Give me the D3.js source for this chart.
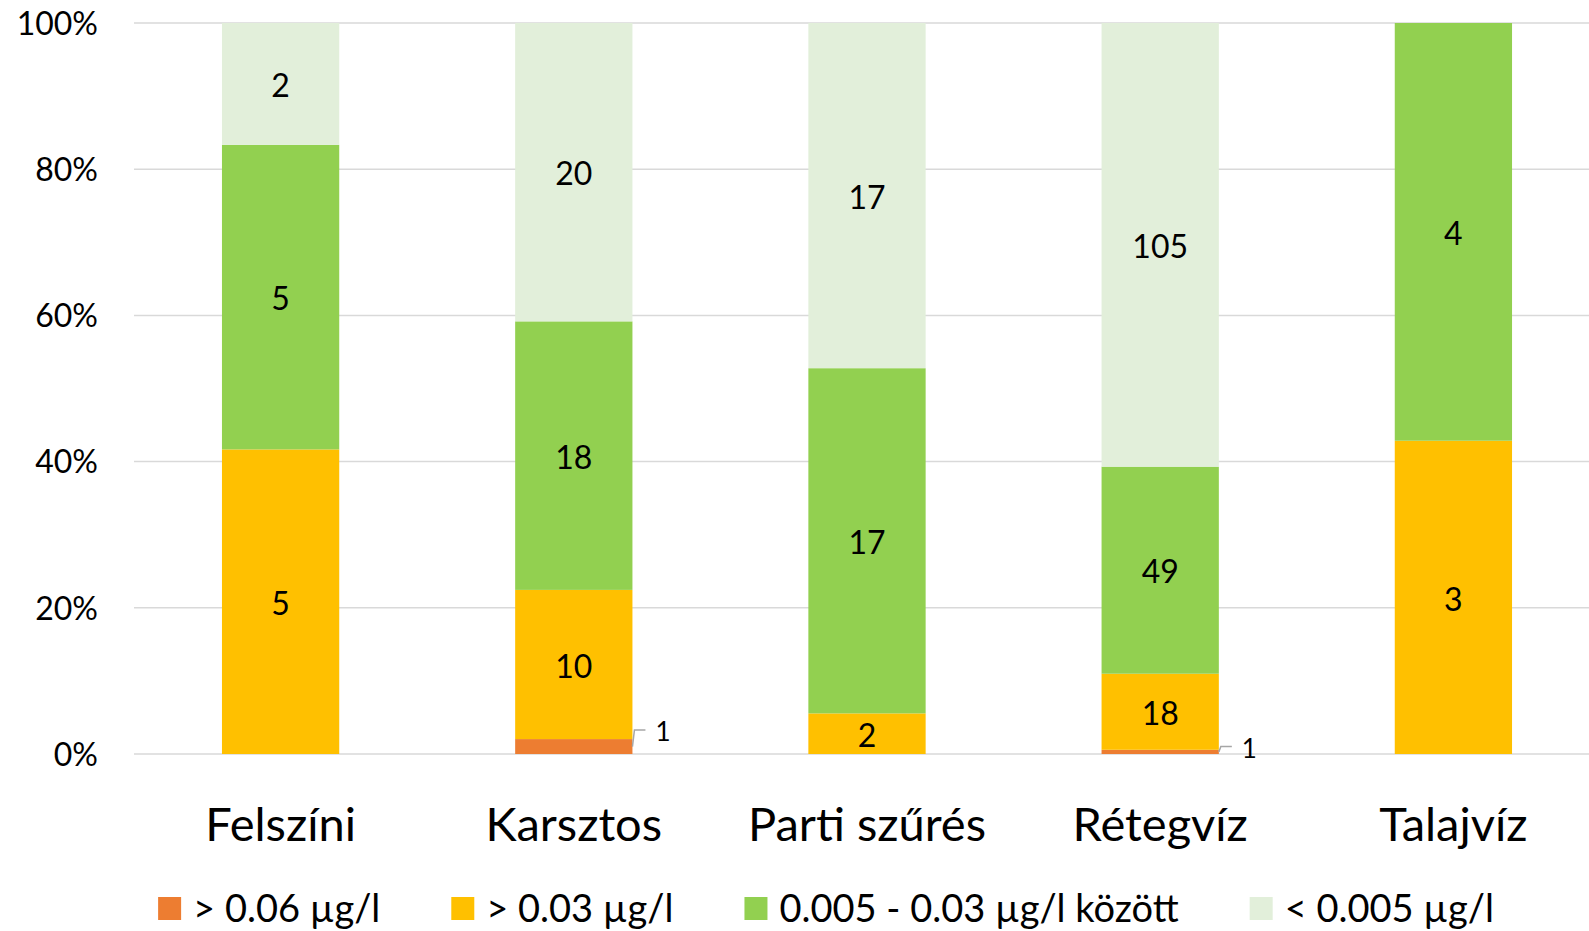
<!DOCTYPE html>
<html>
<head>
<meta charset="utf-8">
<script src="https://cdn.jsdelivr.net/npm/d3@7"></script>
<style>
  html, body { margin: 0; padding: 0; background: #fff; overflow: hidden; }
  text { font-family: Lato, "Open Sans", sans-serif; fill: #000; }
</style>
</head>
<body>
<div id="chart"></div>
<script>
// 100% stacked bars, counts per water source type

var categories = ["Felszíni", "Karsztos", "Parti szűrés", "Rétegvíz", "Talajvíz"];
var seriesNames = ["> 0.06 µg/l", "> 0.03 µg/l", "0.005 - 0.03 µg/l között", "< 0.005 µg/l"];
var over006 = [0, 1, 0, 1, 0];
var over003 = [5, 10, 2, 18, 3];
var between = [5, 18, 17, 49, 4];
var under0005 = [2, 20, 17, 105, 0];
var yTicks = [0, 0.2, 0.4, 0.6, 0.8, 1];

var colors = ["#ED7D31", "#FFC000", "#92D050", "#E2EFDA"];

(function() {
  var width = 1589, height = 931;

  var svg = d3.select("#chart")
    .append("svg")
    .attr("width", width)
    .attr("height", height);

  var rows = categories.map(function(c, i) {
    return { cat: c, s0: over006[i], s1: over003[i], s2: between[i], s3: under0005[i] };
  });
  var keys = ["s0", "s1", "s2", "s3"];

  var stacked = d3.stack()
    .keys(keys)
    .offset(d3.stackOffsetExpand)(rows);

  var x = d3.scaleBand()
    .domain(categories)
    .range([134, 1600])
    .paddingInner(0.6)
    .paddingOuter(0.3);

  var y = d3.scaleLinear()
    .domain([0, 1])
    .range([754, 23]);

  // gridlines
  svg.append("g")
    .selectAll("line")
    .data(yTicks)
    .enter().append("line")
    .attr("x1", 134)
    .attr("x2", 1600)
    .attr("y1", function(d) { return y(d); })
    .attr("y2", function(d) { return y(d); })
    .attr("stroke", "#D9D9D9")
    .attr("stroke-width", 1.5);

  // y axis labels
  var yAxis = d3.axisLeft(y)
    .tickValues(yTicks)
    .tickFormat(d3.format(".0%"))
    .tickSize(0)
    .tickPadding(0);

  svg.append("g")
    .attr("transform", "translate(98,1)")
    .call(yAxis)
    .call(function(g) { g.select(".domain").remove(); })
    .selectAll("text")
    .attr("font-size", 32)
    .attr("font-family", "Lato")
    .attr("fill", "#000");

  // bars
  var layers = svg.append("g")
    .selectAll("g")
    .data(stacked)
    .enter().append("g")
    .attr("fill", function(d, i) { return colors[i]; });

  layers.selectAll("rect")
    .data(function(d) { return d; })
    .enter().append("rect")
    .attr("x", function(d) { return x(d.data.cat); })
    .attr("y", function(d) { return y(d[1]); })
    .attr("width", x.bandwidth())
    .attr("height", function(d) { return y(d[0]) - y(d[1]); });

  // data labels
  var labels = [];
  stacked.forEach(function(layer) {
    layer.forEach(function(d) {
      var v = d.data[layer.key];
      if (v > 0) labels.push({ d: d, v: v });
    });
  });

  var lg = svg.append("g");
  labels.forEach(function(l) {
    var top = y(l.d[1]), bot = y(l.d[0]);
    var h = bot - top;
    var cx = x(l.d.data.cat) + x.bandwidth() / 2;
    if (h > 25) {
      lg.append("text")
        .attr("x", cx)
        .attr("y", (top + bot) / 2 + 2)
        .attr("dy", "0.35em")
        .attr("text-anchor", "middle")
        .attr("font-size", 32)
        .text(l.v);
    } else {
      var right = x(l.d.data.cat) + x.bandwidth();
      var mid = (top + bot) / 2;
      var ly = top - 0.55 * h;
      lg.append("polyline")
        .attr("points", [[right, mid], [right + 2, ly - 1], [right + 13, ly - 1]].join(" "))
        .attr("fill", "none")
        .attr("stroke", "#A6A6A6")
        .attr("stroke-width", 1.5);
      lg.append("text")
        .attr("x", right + 23)
        .attr("y", ly + 1)
        .attr("dy", "0.35em")
        .attr("font-size", 26)
        .text(l.v);
    }
  });

  // category labels
  svg.append("g")
    .selectAll("text")
    .data(categories)
    .enter().append("text")
    .attr("x", function(d) { return x(d) + x.bandwidth() / 2; })
    .attr("y", 841)
    .attr("text-anchor", "middle")
    .attr("font-size", 47)
    .text(function(d) { return d; });

  // legend
  var legend = svg.append("g");
  var items = legend.selectAll("g")
    .data(seriesNames)
    .enter().append("g");

  items.append("rect")
    .attr("width", 23)
    .attr("height", 23)
    .attr("y", 897)
    .attr("fill", function(d, i) { return colors[i]; });

  items.append("text")
    .attr("x", 35)
    .attr("y", 922)
    .attr("font-size", 38)
    .text(function(d) { return d; });

  var widths = [];
  items.each(function() {
    widths.push(35 + d3.select(this).select("text").node().getComputedTextLength());
  });
  var gap = 71;
  var total = d3.sum(widths) + gap * (widths.length - 1);
  var pos = 826 - total / 2;
  items.attr("transform", function(d, i) {
    var t = "translate(" + pos + ",0)";
    pos += widths[i] + gap;
    return t;
  });
})();
</script>
</body>
</html>
